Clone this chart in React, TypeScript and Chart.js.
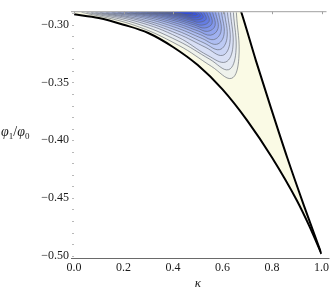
import React, { useEffect, useRef } from 'react';
import { Chart, registerables } from 'chart.js';

Chart.register(...registerables);

// ---- data ----
const xTicks = [0, 0.2, 0.4, 0.6, 0.8, 1.0];
const yTicks = [-0.5, -0.45, -0.4, -0.35, -0.3];
const yMinorTicks = [-0.49, -0.48, -0.47, -0.46, -0.44, -0.43, -0.42, -0.41, -0.39, -0.38, -0.37, -0.36, -0.34, -0.33, -0.32, -0.31, -0.29];

// lower boundary curve
const lowerK = [0, 0.1, 0.2, 0.3, 0.4, 0.5, 0.6, 0.7, 0.8, 0.9, 0.95, 1.0];
const lowerY = [-0.291, -0.2942, -0.3, -0.3072, -0.3193, -0.335, -0.356, -0.383, -0.415, -0.452, -0.474, -0.4985];

// upper-right boundary curve
const upperK = [0.670, 0.676, 0.735, 0.797, 0.861, 0.929, 1.0];
const upperY = [-0.2855, -0.2892, -0.3311, -0.3729, -0.4148, -0.4566, -0.4985];

// contour lines, outermost first: [kappa, phi1/phi0]
const contourLines: number[][][] = [
  [[0.030, -0.2892], [0.238, -0.3001], [0.422, -0.3178], [0.556, -0.3362], [0.636, -0.3465], [0.666, -0.3293], [0.656, -0.2892]],
  [[0.050, -0.2892], [0.247, -0.2987], [0.421, -0.3141], [0.549, -0.3300], [0.624, -0.3390], [0.654, -0.3241], [0.644, -0.2892]],
  [[0.068, -0.2892], [0.256, -0.2974], [0.420, -0.3108], [0.541, -0.3267], [0.612, -0.3324], [0.642, -0.3194], [0.632, -0.2892]],
  [[0.086, -0.2892], [0.265, -0.2963], [0.419, -0.3079], [0.533, -0.3198], [0.600, -0.3266], [0.630, -0.3154], [0.620, -0.2892]],
  [[0.104, -0.2892], [0.273, -0.2954], [0.419, -0.3054], [0.525, -0.3158], [0.588, -0.3216], [0.618, -0.3119], [0.608, -0.2892]],
  [[0.128, -0.2892], [0.285, -0.2945], [0.419, -0.3031], [0.518, -0.3120], [0.576, -0.3170], [0.606, -0.3087], [0.596, -0.2892]],
  [[0.152, -0.2892], [0.296, -0.2937], [0.420, -0.3010], [0.510, -0.3086], [0.564, -0.3129], [0.594, -0.3058], [0.584, -0.2892]],
  [[0.176, -0.2892], [0.308, -0.2930], [0.420, -0.2992], [0.503, -0.3056], [0.552, -0.3091], [0.582, -0.3032], [0.572, -0.2892]],
  [[0.200, -0.2892], [0.319, -0.2924], [0.421, -0.2975], [0.496, -0.3028], [0.540, -0.3058], [0.570, -0.3008], [0.560, -0.2892]],
  [[0.224, -0.2892], [0.330, -0.2918], [0.422, -0.2961], [0.488, -0.3004], [0.528, -0.3029], [0.558, -0.2988], [0.548, -0.2892]],
  [[0.248, -0.2892], [0.342, -0.2914], [0.422, -0.2948], [0.481, -0.2984], [0.516, -0.3004], [0.546, -0.2971], [0.536, -0.2892]],
  [[0.272, -0.2892], [0.353, -0.2909], [0.423, -0.2936], [0.474, -0.2963], [0.504, -0.2979], [0.534, -0.2953], [0.524, -0.2892]],
  [[0.296, -0.2892], [0.365, -0.2905], [0.423, -0.2925], [0.466, -0.2947], [0.492, -0.2959], [0.522, -0.2939], [0.512, -0.2892]],
  [[0.320, -0.2892], [0.376, -0.2901], [0.424, -0.2917], [0.459, -0.2933], [0.480, -0.2942], [0.510, -0.2927], [0.500, -0.2892]],
  [[0.344, -0.2892], [0.387, -0.2899], [0.425, -0.2909], [0.452, -0.2919], [0.468, -0.2925], [0.498, -0.2915], [0.488, -0.2892]],
  [[0.368, -0.2892], [0.408, -0.2899], [0.436, -0.2905], [0.456, -0.2913], [0.480, -0.2907], [0.476, -0.2892]],
];

// ---- styles ----
const regionColor = 'rgb(250,250,229)';
const bandColors = [
  'rgb(239,242,236)', 'rgb(228,233,243)', 'rgb(216,223,245)', 'rgb(203,213,245)',
  'rgb(189,202,244)', 'rgb(175,190,242)', 'rgb(160,177,240)', 'rgb(145,164,237)',
  'rgb(130,151,234)', 'rgb(115,138,231)', 'rgb(101,125,228)', 'rgb(88,113,225)',
  'rgb(76,102,222)', 'rgb(66,92,219)', 'rgb(57,83,216)', 'rgb(50,76,213)',
];
const serif = '"Liberation Serif", "Times New Roman", serif';

const contourFillPlugin = {
  id: 'contourFill',
  beforeDatasetsDraw(chart: any) {
    const { ctx, chartArea: area } = chart;
    ctx.save();
    ctx.beginPath();
    ctx.rect(area.left, area.top, area.right - area.left, area.bottom - area.top);
    ctx.clip();

    // region between the two boundary curves
    const lower = chart.getDatasetMeta(0).dataset;
    const upper = chart.getDatasetMeta(1).dataset;
    lower.updateControlPoints(area, 'x');
    upper.updateControlPoints(area, 'x');
    const lp = lower.points;
    const up = upper.points;
    ctx.beginPath();
    ctx.moveTo(lp[0].x, area.top - 4);
    ctx.lineTo(lp[0].x, lp[0].y);
    lower.pathSegment(ctx, lower.segments[0], { move: false });
    upper.pathSegment(ctx, upper.segments[0], { move: false, reverse: true });
    ctx.lineTo(up[0].x, area.top - 4);
    ctx.closePath();
    ctx.fillStyle = regionColor;
    ctx.fill();

    // contour bands
    contourLines.forEach((_, i) => {
      const el = chart.getDatasetMeta(i + 2).dataset;
      el.updateControlPoints(area, 'x');
      const pts = el.points;
      ctx.beginPath();
      el.path(ctx);
      ctx.lineTo(pts[pts.length - 1].x, area.top - 4);
      ctx.lineTo(pts[0].x, area.top - 4);
      ctx.closePath();
      ctx.fillStyle = bandColors[i];
      ctx.fill();
    });
    ctx.restore();
  },
  afterDraw(chart: any) {
    const { ctx, chartArea: area, scales } = chart;
    const xs = scales.x;
    const ys = scales.y;
    ctx.save();
    // top line
    ctx.strokeStyle = '#a0a0a0';
    ctx.lineWidth = 1;
    ctx.beginPath();
    ctx.moveTo(area.left - 3, area.top - 0.5);
    ctx.lineTo(area.right + 5, area.top - 0.5);
    ctx.stroke();
    xTicks.forEach((v) => {
      const px = Math.round(xs.getPixelForValue(v)) + 0.5;
      ctx.beginPath();
      ctx.moveTo(px, area.top - 0.5);
      ctx.lineTo(px, area.top + 2);
      ctx.stroke();
    });
    // bottom axis
    ctx.strokeStyle = '#6a6a6a';
    ctx.beginPath();
    ctx.moveTo(area.left - 3, area.bottom + 0.5);
    ctx.lineTo(area.right + 8, area.bottom + 0.5);
    ctx.stroke();
    // y ticks (left)
    ctx.strokeStyle = '#b8b8b8';
    [...yTicks, ...yMinorTicks].forEach((v) => {
      const py = Math.round(ys.getPixelForValue(v)) + 0.5;
      ctx.beginPath();
      ctx.moveTo(area.left - 2, py);
      ctx.lineTo(area.left, py);
      ctx.stroke();
    });
    ctx.restore();
  },
};

export default function App() {
  const canvasRef = useRef<HTMLCanvasElement | null>(null);

  useEffect(() => {
    const canvas = canvasRef.current;
    if (!canvas) return;
    const datasets: any[] = [
      {
        label: 'lower',
        data: lowerK.map((k, i) => ({ x: k, y: lowerY[i] })),
        borderColor: '#000000',
        borderWidth: 2,
        pointRadius: 0,
        cubicInterpolationMode: 'monotone',
        fill: false,
      },
      {
        label: 'upper',
        data: upperK.map((k, i) => ({ x: k, y: upperY[i] })),
        borderColor: '#000000',
        borderWidth: 2,
        pointRadius: 0,
        cubicInterpolationMode: 'monotone',
        fill: false,
      },
      ...contourLines.map((c, i) => ({
        label: 'contour ' + (i + 1),
        data: c.map(([k, y]) => ({ x: k, y })),
        borderColor: 'rgba(96,100,112,0.85)',
        borderWidth: 0.75,
        pointRadius: 0,
        tension: 0.4,
        fill: false,
      })),
    ];

    const chart = new Chart(canvas, {
      type: 'line',
      data: { datasets },
      options: {
        animation: false,
        responsive: false,
        events: [],
        layout: { padding: { left: 0, right: 8, top: 2, bottom: 0 } },
        plugins: { legend: { display: false }, tooltip: { enabled: false } },
        scales: {
          x: {
            type: 'linear',
            min: 0,
            max: 1,
            afterBuildTicks: (s: any) => { s.ticks = xTicks.map((v) => ({ value: v })); },
            afterFit: (s: any) => { s.height = 33; },
            grid: { display: false, drawTicks: false },
            border: { display: false },
            ticks: {
              padding: 3,
              color: '#1a1a1a',
              font: { family: serif, size: 12 },
              maxRotation: 0,
              autoSkip: false,
              callback: (v: any) => Number(v).toFixed(1),
            },
            title: {
              display: true,
              text: 'κ',
              color: '#1a1a1a',
              font: { family: serif, size: 13, style: 'italic' },
              padding: 0,
            },
          },
          y: {
            type: 'linear',
            min: -0.502,
            max: -0.2892,
            afterBuildTicks: (s: any) => { s.ticks = yTicks.map((v) => ({ value: v })); },
            afterFit: (s: any) => { s.width = 74; },
            grid: { display: false, drawTicks: false },
            border: { display: false },
            ticks: {
              padding: 5,
              color: '#1a1a1a',
              font: { family: serif, size: 12 },
              callback: (v: any) => '\u2212' + Math.abs(Number(v)).toFixed(2),
            },
          },
        },
      } as any,
      plugins: [contourFillPlugin],
    });
    return () => chart.destroy();
  }, []);

  return (
    <div style={{ position: 'absolute', left: 0, top: 0, width: 332, height: 291, background: '#ffffff' }}>
      <canvas ref={canvasRef} width={332} height={291} style={{ display: 'block' }} />
      <div
        style={{
          position: 'absolute',
          left: 1,
          top: 124,
          fontFamily: serif,
          fontSize: 14,
          lineHeight: '16px',
          color: '#1a1a1a',
          whiteSpace: 'nowrap',
        }}
      >
        <i>φ</i>
        <span style={{ fontSize: 9, position: 'relative', top: 3 }}>1</span>/<i>φ</i>
        <span style={{ fontSize: 9, position: 'relative', top: 3 }}>0</span>
      </div>
    </div>
  );
}
